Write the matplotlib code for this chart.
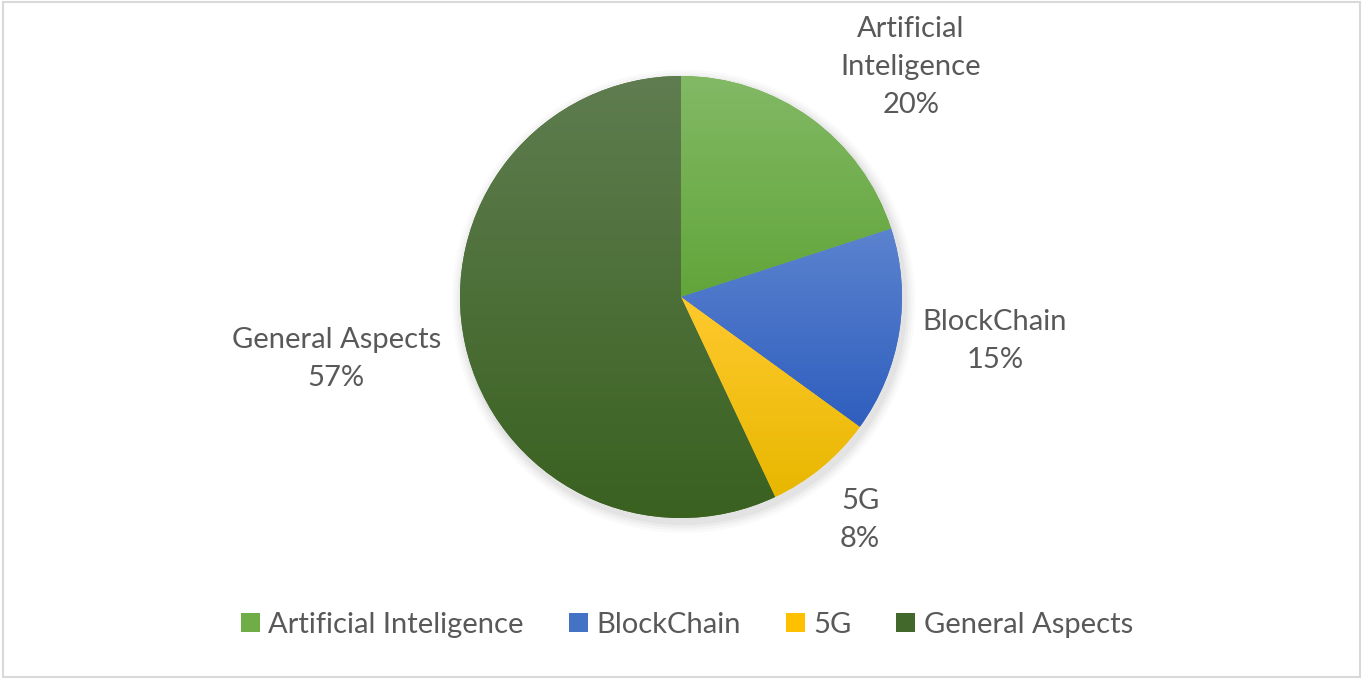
import numpy as np
import matplotlib.pyplot as plt
from matplotlib.patches import Patch, Rectangle
from matplotlib.colors import LinearSegmentedColormap

categories = ["Artificial Inteligence", "BlockChain", "5G", "General Aspects"]
shares = [20, 15, 8, 57]
pct_labels = ["20%", "15%", "8%", "57%"]

# colori stile Excel: (alto, basso) del gradiente
top_colors = ["#82B965", "#5B83CF", "#FFC92E", "#5F7D50"]
bot_colors = ["#62A53A", "#2F5EBE", "#E8B700", "#3A6120"]
base_colors = ["#70AD47", "#4472C4", "#FFC000", "#43682B"]

# posizione delle etichette (in unita' del raggio, rispetto al centro)
label_pos = [(1.04, 1.04), (1.42, -0.20), (0.81, -1.01), (-1.56, -0.28)]

plt.rcParams['font.family'] = ['Lato', 'DejaVu Sans']
text_col = "#595959"

W, H = 1363, 679
R = 221.0
cx, cy = 681.0, 297.0

fig = plt.figure(figsize=(W / 100, H / 100), dpi=100)
ax = fig.add_axes([0, 0, 1, 1])

# ombra leggera
for i, a in enumerate([0.035, 0.03, 0.025, 0.02]):
    c = plt.Circle((0.012, -0.02), 1.0 + 0.012 * (i + 1), color='k', alpha=a, lw=0, zorder=0)
    ax.add_patch(c)

wedges, _ = ax.pie(shares, startangle=90, counterclock=False, radius=1.0,
                   colors=base_colors, center=(0, 0), frame=True)

grad = np.linspace(0, 1, 256).reshape(-1, 1)
for w, ct, cb in zip(wedges, top_colors, bot_colors):
    th1, th2 = np.deg2rad(w.theta1), np.deg2rad(w.theta2)
    angs = np.linspace(th1, th2, 200)
    ys = np.concatenate([[0], np.sin(angs)])
    xs = np.concatenate([[0], np.cos(angs)])
    cmap = LinearSegmentedColormap.from_list("g", [cb, ct])
    im = ax.imshow(grad, cmap=cmap, origin='lower', aspect='auto',
                   extent=(xs.min(), xs.max(), ys.min(), ys.max()), zorder=2)
    im.set_clip_path(w)
    w.set_zorder(1)

ax.set_xlim(-cx / R, (W - cx) / R)
ax.set_ylim(-(H - cy) / R, cy / R)
ax.axis('off')

for name, pct, (lx, ly) in zip(categories, pct_labels, label_pos):
    ax.text(lx, ly, name.replace("Artificial ", "Artificial\n") + "\n" + pct,
            ha='center', va='center', fontsize=21, color=text_col, linespacing=1.58)

handles = [Patch(facecolor=c, edgecolor='none') for c in base_colors]
fig.legend(handles, categories, loc='center', bbox_to_anchor=(0.504, 1 - 625 / H),
           ncol=4, frameon=False, fontsize=21, handlelength=0.65, handleheight=0.65,
           handletextpad=0.28, columnspacing=1.55, labelcolor=text_col)

fig.add_artist(Rectangle((0.002, 0.003), 0.996, 0.994, transform=fig.transFigure,
                         fill=False, edgecolor="#D9D9D9", lw=1.5))

fig.savefig("out.png", dpi=100)
